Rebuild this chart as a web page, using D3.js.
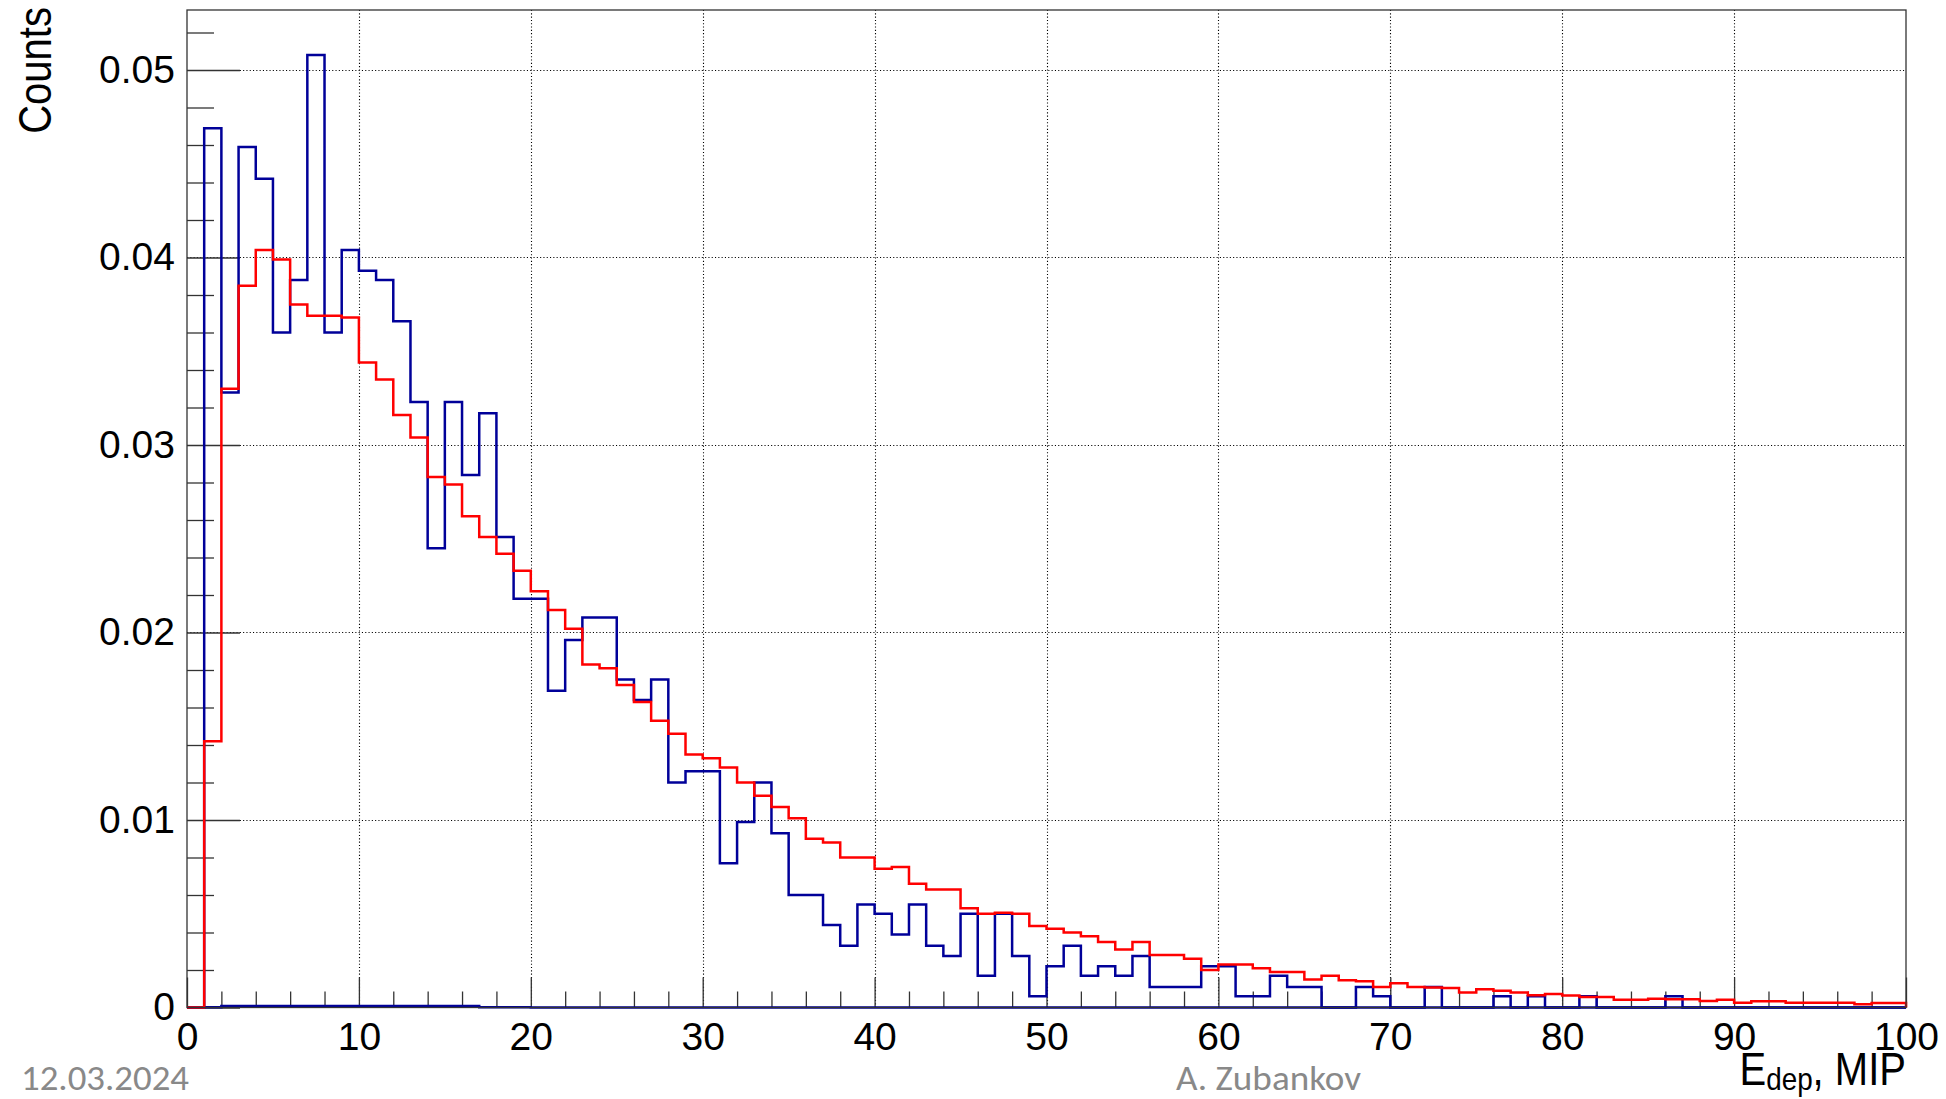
<!DOCTYPE html>
<html><head><meta charset="utf-8">
<script src="https://cdn.jsdelivr.net/npm/d3@7"></script>
<style>html,body{margin:0;padding:0;background:#fff;} svg{display:block}</style>
</head><body>
<script>
// ---------------- DATA ----------------
const binLow = 0, binHigh = 100, binWidth = 1;
const blueCounts = [
  0, 0.0469, 0.0328, 0.0459, 0.0442, 0.0360, 0.0388, 0.0508, 0.0360, 0.0404,
  0.0393, 0.0388, 0.0366, 0.0323, 0.0245, 0.0323, 0.0284, 0.0317, 0.0251, 0.0218,
  0.0218, 0.0169, 0.0196, 0.0208, 0.0208, 0.0175, 0.0164, 0.0175, 0.0120, 0.0126,
  0.0126, 0.0077, 0.0099, 0.0120, 0.0093, 0.0060, 0.0060, 0.0044, 0.0033, 0.0055,
  0.0050, 0.0039, 0.0055, 0.0033, 0.00275, 0.0050, 0.0017, 0.0050, 0.00275, 0.0006,
  0.0022, 0.0033, 0.0017, 0.0022, 0.0017, 0.00275, 0.0011, 0.0011, 0.0011, 0.0022,
  0.0022, 0.0006, 0.0006, 0.0017, 0.0011, 0.0011, 0, 0, 0.0011, 0.0006,
  0, 0, 0.0011, 0, 0, 0, 0.0006, 0, 0.0006, 0,
  0, 0.0006, 0, 0, 0, 0, 0.0006, 0, 0, 0,
  0, 0, 0, 0, 0, 0, 0, 0, 0, 0
];
const redCounts = [
  0, 0.0142, 0.0330, 0.0385, 0.0404, 0.0399, 0.0375, 0.0369, 0.0369, 0.0368,
  0.0344, 0.0335, 0.0316, 0.0304, 0.0283, 0.0279, 0.0262, 0.0251, 0.0242, 0.0233,
  0.0222, 0.0212, 0.0202, 0.0183, 0.0181, 0.0172, 0.0163, 0.0153, 0.0146, 0.0135,
  0.0133, 0.0128, 0.0120, 0.0113, 0.0107, 0.0101, 0.0090, 0.0088, 0.0080, 0.0080,
  0.0074, 0.0075, 0.0066, 0.0063, 0.0063, 0.0053, 0.0050, 0.00505, 0.0050, 0.00435,
  0.0042, 0.0040, 0.0038, 0.0035, 0.0031, 0.0035, 0.0028, 0.0028, 0.0026, 0.0020,
  0.0023, 0.0023, 0.0021, 0.0019, 0.0019, 0.0015, 0.0017, 0.00145, 0.0014, 0.0011,
  0.0013, 0.0011, 0.00107, 0.00104, 0.0008, 0.00097, 0.0009, 0.0008, 0.00065, 0.00072,
  0.00064, 0.00056, 0.00056, 0.00042, 0.00042, 0.00047, 0.00044, 0.00044, 0.00035, 0.00042,
  0.00026, 0.00033, 0.00033, 0.00026, 0.00026, 0.00026, 0.00026, 0.00017, 0.00024, 0.00024
];
const blueLowCounts = [
  0, 0.00002, 0.00008, 0.00008, 0.00008, 0.00008, 0.00008, 0.00008, 0.00008, 0.00008,
  0.00008, 0.00008, 0.00008, 0.00008, 0.00008, 0.00008, 0.00008, 0.00002, 0.00002, 0.00002,
  0, 0, 0, 0, 0, 0, 0, 0, 0, 0, 0, 0, 0, 0, 0, 0, 0, 0, 0, 0,
  0, 0, 0, 0, 0, 0, 0, 0, 0, 0, 0, 0, 0, 0, 0, 0, 0, 0, 0, 0,
  0, 0, 0, 0, 0, 0, 0, 0, 0, 0, 0, 0, 0, 0, 0, 0, 0, 0, 0, 0,
  0, 0, 0, 0, 0, 0, 0, 0, 0, 0, 0, 0, 0, 0, 0, 0, 0, 0, 0, 0
];
const xTickValues = [0, 10, 20, 30, 40, 50, 60, 70, 80, 90, 100];
const xTickLabels = ["0", "10", "20", "30", "40", "50", "60", "70", "80", "90", "100"];
const yTickValues = [0, 0.01, 0.02, 0.03, 0.04, 0.05];
const yTickLabels = ["0", "0.01", "0.02", "0.03", "0.04", "0.05"];
const yTitle = "Counts";
const xTitleMain = "E", xTitleSub = "dep", xTitleRest = ", MIP";
const footerDate = "12.03.2024";
const footerAuthor = "A. Zubankov";

// ---------------- LAYOUT ----------------
const W = 1946, H = 1099;
const fr = {left: 187, right: 1906, top: 10, bottom: 1007.5};
const yMax = 0.0532;

const svg = d3.select("body").append("svg").attr("width", W).attr("height", H);
svg.append("rect").attr("width", W).attr("height", H).attr("fill", "#fff");

const x = d3.scaleLinear().domain([binLow, binHigh]).range([fr.left, fr.right]);
const y = d3.scaleLinear().domain([0, yMax]).range([fr.bottom, fr.top]);

// grid
const grid = svg.append("g").attr("stroke", "#000").attr("stroke-width", 1.1)
  .attr("stroke-dasharray", "1.1,2.2");
grid.selectAll("line.gx").data(xTickValues.slice(1, -1)).join("line")
  .attr("x1", d => Math.round(x(d)) + 0.5).attr("x2", d => Math.round(x(d)) + 0.5)
  .attr("y1", fr.top).attr("y2", fr.bottom);
grid.selectAll("line.gy").data(yTickValues.slice(1)).join("line")
  .attr("y1", d => Math.round(y(d)) + 0.5).attr("y2", d => Math.round(y(d)) + 0.5)
  .attr("x1", fr.left).attr("x2", fr.right);

// axes
const fontAxis = "'Liberation Sans', Arial, Helvetica, sans-serif";
const yMinor = d3.range(0, yMax, 0.002).filter(v => Math.abs(v / 0.01 - Math.round(v / 0.01)) > 1e-6);
const xMinor = d3.range(0, binHigh + 0.001, 2).filter(v => v % 10 !== 0);

function styleAxis(g) {
  g.select(".domain").remove();
  g.selectAll(".tick line").attr("stroke", "#333").attr("stroke-width", 1.3);
  g.selectAll(".tick text").attr("fill", "#000").attr("font-family", fontAxis).attr("font-size", 39);
}
svg.append("g").attr("transform", `translate(${fr.left},0)`)
  .call(d3.axisLeft(y).tickValues(yMinor).tickSize(-27).tickFormat(""))
  .call(styleAxis);
svg.append("g").attr("transform", `translate(${fr.left},0)`)
  .call(d3.axisLeft(y).tickValues(yTickValues).tickSize(-53).tickPadding(12)
    .tickFormat((d, i) => yTickLabels[i]))
  .call(styleAxis);
svg.append("g").attr("transform", `translate(0,${fr.bottom})`)
  .call(d3.axisBottom(x).tickValues(xMinor).tickSize(-16).tickFormat(""))
  .call(styleAxis);
svg.append("g").attr("transform", `translate(0,${fr.bottom})`)
  .call(d3.axisBottom(x).tickValues(xTickValues).tickSize(-30).tickPadding(15)
    .tickFormat((d, i) => xTickLabels[i]))
  .call(styleAxis);

// histograms
function histPath(vals) {
  const pts = [[binLow, 0]];
  vals.forEach((v, i) => { pts.push([binLow + i * binWidth, v]); pts.push([binLow + (i + 1) * binWidth, v]); });
  pts.push([binHigh, 0]);
  return d3.line().x(d => x(d[0])).y(d => y(d[1]))(pts);
}
const hg = svg.append("g").attr("fill", "none").attr("stroke-linejoin", "miter").attr("stroke-width", 2.5);
hg.append("path").attr("d", histPath(blueLowCounts)).attr("stroke", "#000099");
hg.append("path").attr("d", histPath(blueCounts)).attr("stroke", "#000099");
hg.append("path").attr("d", histPath(redCounts)).attr("stroke", "#ff0000");

// frame
svg.append("rect").attr("x", fr.left).attr("y", fr.top)
  .attr("width", fr.right - fr.left).attr("height", fr.bottom - fr.top)
  .attr("fill", "none").attr("stroke", "#333").attr("stroke-width", 1.3);

// titles
svg.append("text").attr("transform", "translate(51,7) rotate(-90) scale(0.87,1)")
  .attr("text-anchor", "end").attr("font-family", fontAxis).attr("font-size", 46)
  .text(yTitle);
const xt = svg.append("text").attr("transform", `translate(${fr.right},1085) scale(0.87,1)`)
  .attr("text-anchor", "end").attr("font-family", fontAxis).attr("font-size", 46);
xt.append("tspan").text(xTitleMain);
xt.append("tspan").attr("font-size", 32).attr("dy", 5).text(xTitleSub);
xt.append("tspan").attr("dy", -5).text(xTitleRest);

// footer
const fontFoot = "Carlito, Calibri, Lato, 'Open Sans', sans-serif";
svg.append("text").attr("x", 21).attr("y", 1090).attr("font-family", fontFoot).attr("font-size", 34)
  .attr("fill", "#898989").attr("textLength", 168).attr("lengthAdjust", "spacingAndGlyphs").text(footerDate);
svg.append("text").attr("x", 1176).attr("y", 1090).attr("font-family", fontFoot).attr("font-size", 34)
  .attr("fill", "#898989").attr("textLength", 185).attr("lengthAdjust", "spacingAndGlyphs").text(footerAuthor);
</script>
</body></html>
